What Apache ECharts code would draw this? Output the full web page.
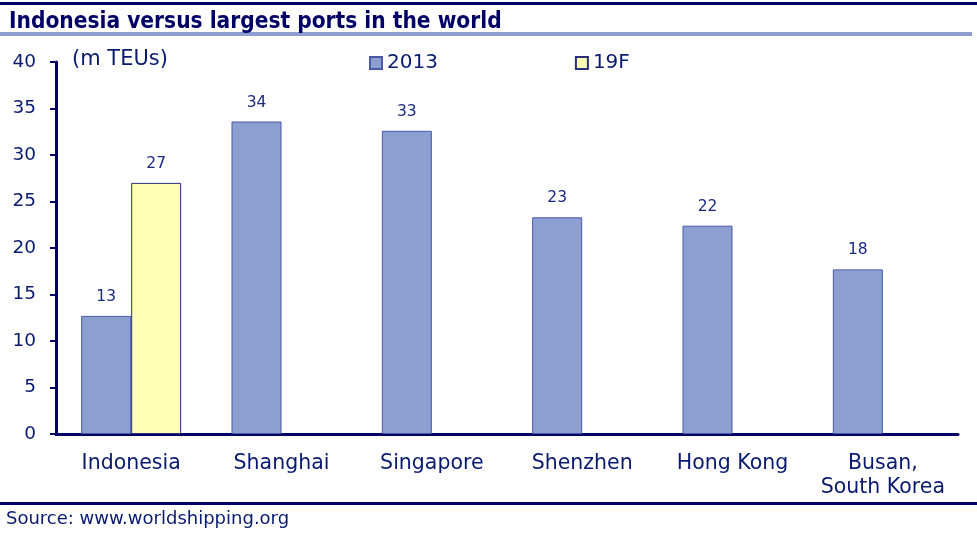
<!DOCTYPE html>
<html><head><meta charset="utf-8">
<script src="https://cdn.jsdelivr.net/npm/echarts@6/dist/echarts.min.js"></script>
<style>html,body{margin:0;padding:0;background:#fff}#c{width:977px;height:535px}</style>
</head><body><div id="c"></div>
<script>
const categories = ['Indonesia', 'Shanghai', 'Singapore', 'Shenzhen', 'Hong Kong', 'Busan,\nSouth Korea'];
const values2013 = [12.7, 33.6, 32.6, 23.3, 22.4, 17.7];
const values19F = [27.0, null, null, null, null, null];
const seriesNames = ['2013', '19F'];
const yTicks = [0, 5, 10, 15, 20, 25, 30, 35, 40];

const NAVY = '#000066';
const TXT = '#0a1a6e';
const chart = echarts.init(document.getElementById('c'), null, {renderer: 'canvas'});
const lbl = {show: true, position: 'top', distance: 11, fontFamily: 'DejaVu Sans', fontSize: 15.5, color: '#1a2a80',
  formatter: p => p.value == null ? '' : Math.round(p.value)};
chart.setOption({
  animation: false,
  title: {text: 'Indonesia versus largest ports in the world', left: 4, top: 6,
    textStyle: {fontFamily: 'DejaVu Sans Condensed', fontWeight: 'bold', fontSize: 22.5, color: NAVY}},
  graphic: [
    {type: 'rect', shape: {x: 0, y: 2, width: 977, height: 3}, style: {fill: NAVY}},
    {type: 'rect', shape: {x: 0, y: 32, width: 972, height: 4}, style: {fill: '#8c9fd0'}},
    {type: 'rect', shape: {x: 0, y: 502, width: 977, height: 3}, style: {fill: NAVY}},
    {type: 'text', left: 6, top: 510, style: {text: 'Source: www.worldshipping.org', fontFamily: 'DejaVu Sans', fontSize: 18, fill: TXT}},
    {type: 'text', left: 72, top: 49, style: {text: '(m TEUs)', fontFamily: 'DejaVu Sans', fontSize: 21, fill: TXT}}
  ],
  legend: {data: seriesNames, left: 364, top: 48, itemWidth: 12, itemHeight: 12, itemGap: 137, icon: 'rect',
    textStyle: {fontFamily: 'DejaVu Sans', fontSize: 20, color: TXT}},
  grid: {left: 56, right: 19, top: 62, bottom: 101, containLabel: false},
  xAxis: {type: 'category', data: categories,
    axisLine: {lineStyle: {color: NAVY, width: 3}},
    axisTick: {length: 6, lineStyle: {color: NAVY, width: 3}},
    axisLabel: {fontFamily: 'DejaVu Sans', fontSize: 20.5, color: TXT, margin: 18, lineHeight: 24, interval: 0}},
  yAxis: {type: 'value', min: 0, max: 40, interval: 5,
    axisLine: {show: true, lineStyle: {color: NAVY, width: 3}},
    axisTick: {show: true, length: 6, lineStyle: {color: NAVY, width: 2}},
    splitLine: {show: false},
    axisLabel: {fontFamily: 'DejaVu Sans', fontSize: 18.5, color: TXT, margin: 20,
      formatter: v => yTicks.includes(v) ? String(v) : ''}},
  series: [
    {name: seriesNames[0], type: 'bar', data: values2013, barWidth: 50, barGap: '0%',
      itemStyle: {color: '#8c9fd0', borderColor: '#4a58a6', borderWidth: 1}, label: lbl},
    {name: seriesNames[1], type: 'bar', data: values19F, barWidth: 50,
      itemStyle: {color: '#ffffb3', borderColor: '#2b2f7a', borderWidth: 1}, label: lbl}
  ]
});
</script></body></html>
